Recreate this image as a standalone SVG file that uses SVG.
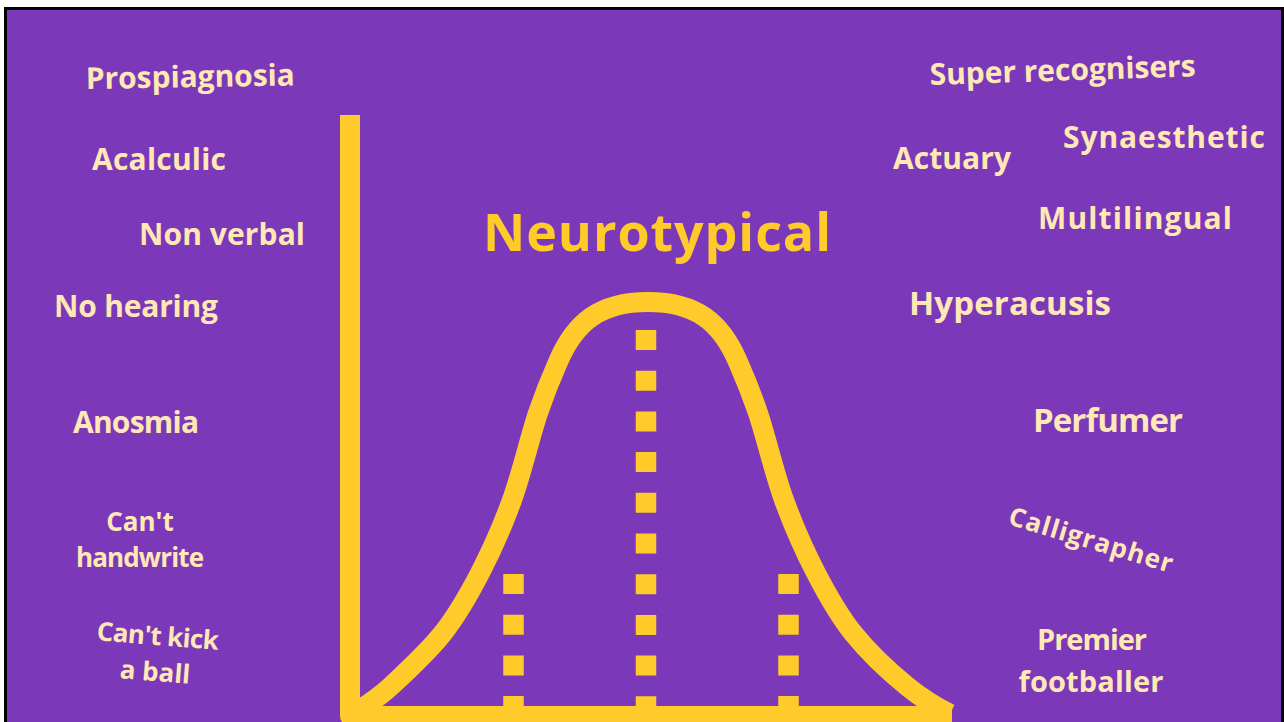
<svg xmlns="http://www.w3.org/2000/svg" width="1284" height="722" viewBox="0 0 1284 722">
<style>
.lbl{font-family:"Open Sans","Noto Sans",sans-serif;font-weight:700;fill:#FFE8B6;font-size:30px}
.sm{font-size:26px}
.md{font-size:29px}
.big{font-size:33px}
.title{font-family:"Open Sans","Noto Sans",sans-serif;font-weight:700;fill:#FFCB2B;font-size:52px}
.ax{fill:none;stroke:#FFCB2B;stroke-width:20}
.dash{stroke:#FFCB2B;stroke-width:20.5;stroke-dasharray:20 20.7}
</style>
<rect x="0" y="0" width="1284" height="722" fill="#FFFFFF"/>
<rect x="5.5" y="8.5" width="1277" height="730" fill="#7B38B9" stroke="#000000" stroke-width="3"/>
<g id="chart">
<path class="ax" d="M350 115 V716 H952" stroke-linejoin="round"/>
<g id="dashes">
<line class="dash" x1="513.5" y1="574" x2="513.5" y2="710"/>
<line class="dash" x1="646" y1="330" x2="646" y2="710"/>
<line class="dash" x1="788.5" y1="574" x2="788.5" y2="710"/>
</g>
<path id="bell" class="ax" stroke-width="21" d="M358 712 C364 706 376.5 699.5 390 687 C403.5 674.5 428 652 443 633 C458 614 468.5 595.2 480 573 C491.5 550.8 502.3 526.7 512 500 C521.7 473.3 530.3 435.8 538 413 C545.7 390.2 550 380 558 362 C575 322 600 302 648 302 C696 302 721 322 738 362 C746 380 750.3 390.2 758 413 C765.7 435.8 774.3 473.3 784 500 C793.7 526.7 804.5 550.8 816 573 C827.5 595.2 837.7 614 853 633 C868.3 652 892.2 674.2 908 687 C923.8 699.8 942 710 950 714"/>
</g>
<g id="title"><text class="title" x="483" y="251" textLength="348">Neurotypical</text></g>
<g id="left-labels">
<g id="prospiagnosia"><text class="lbl" x="86" y="89" textLength="209" transform="rotate(-1 86 89)">Prospiagnosia</text></g>
<g id="acalculic"><text class="lbl" x="92" y="170" textLength="134">Acalculic</text></g>
<g id="nonverbal"><text class="lbl" x="139" y="245" textLength="166">Non verbal</text></g>
<g id="nohearing"><text class="lbl" x="54" y="317" textLength="164">No hearing</text></g>
<g id="anosmia"><text class="lbl" x="73" y="433" textLength="126">Anosmia</text></g>
<g id="handwrite"><text class="lbl sm" text-anchor="middle"><tspan x="140" y="531">Can't</tspan><tspan x="140" y="567" textLength="128">handwrite</tspan></text></g>
<g id="kick"><text class="lbl sm" text-anchor="middle" transform="rotate(4.5 156 660)"><tspan x="156" y="645" textLength="122">Can't kick</tspan><tspan x="156" y="681">a ball</tspan></text></g>
</g>
<g id="right-labels">
<g id="super"><text class="lbl" x="930" y="85" textLength="266" transform="rotate(-1.9 930 85)">Super recognisers</text></g>
<g id="actuary"><text class="lbl" x="893" y="169" textLength="118">Actuary</text></g>
<g id="synaesthetic"><text class="lbl" x="1063" y="148" textLength="202">Synaesthetic</text></g>
<g id="multilingual"><text class="lbl" x="1038" y="229" textLength="194">Multilingual</text></g>
<g id="hyperacusis"><text class="lbl big" x="909" y="315" textLength="202">Hyperacusis</text></g>
<g id="perfumer"><text class="lbl big" x="1033" y="432" textLength="150">Perfumer</text></g>
<g id="calligrapher"><text class="lbl sm" x="1007" y="524" textLength="170" transform="rotate(16.7 1007 524)">Calligrapher</text></g>
<g id="footballer"><text class="lbl md" text-anchor="middle"><tspan x="1092" y="650" textLength="110">Premier</tspan><tspan x="1091" y="692" textLength="145">footballer</tspan></text></g>
</g>
</svg>
